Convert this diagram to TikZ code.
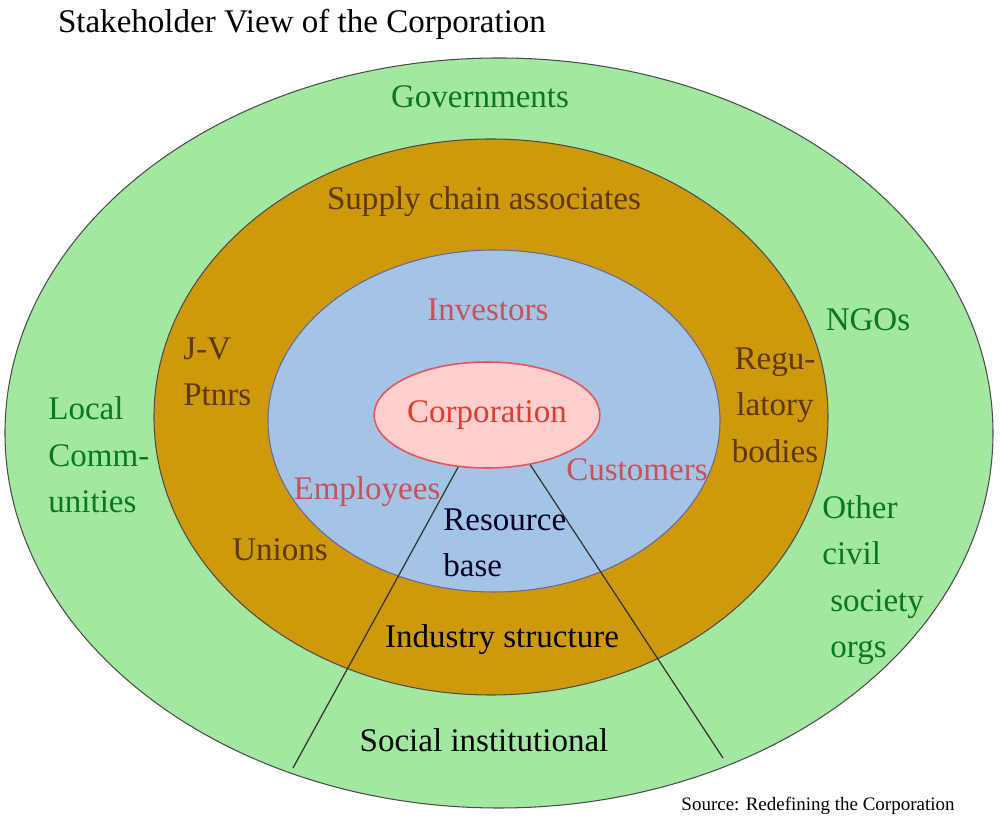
\documentclass[tikz,border=0pt]{standalone}
\usepackage{fontspec}
\setmainfont{Liberation Serif}
\usetikzlibrary{shapes.geometric}
\definecolor{envcol}{RGB}{163,232,160}
\definecolor{indcol}{RGB}{206,154,12}
\definecolor{rescol}{RGB}{164,196,230}
\definecolor{corpfill}{RGB}{255,206,206}
\definecolor{corpline}{RGB}{232,84,92}
\definecolor{envtxt}{RGB}{10,120,30}
\definecolor{indtxt}{RGB}{92,56,10}
\definecolor{restxt}{RGB}{200,82,92}
\definecolor{corptxt}{RGB}{222,62,46}

\begin{document}
\begin{tikzpicture}[
  lbl/.style={inner sep=0pt,font=\fontsize{18.8}{26.4}\selectfont},
  ring/.style={draw=black!70,line width=0.6pt},
  corpnode/.style={ellipse,draw=corpline,fill=corpfill,line width=0.9pt,
    minimum width=4.48cm,minimum height=2.12cm,inner sep=0pt},
]
\useasboundingbox (-10,-7.98) rectangle (10,8.6);
% --- the three rings, outside in ---
\fill[envcol] (-0.02,-0.06) ellipse [x radius=9.88,y radius=7.5];
\draw[ring] (-0.02,-0.06) ellipse [x radius=9.88,y radius=7.5];
\fill[indcol] (-0.18,0.26) ellipse [x radius=6.74,y radius=5.56];
\draw[ring] (-0.18,0.26) ellipse [x radius=6.74,y radius=5.56];
\fill[rescol] (-0.12,0.18) ellipse [x radius=4.52,y radius=3.42];
\draw[ring,draw=black!60!blue!60] (-0.12,0.18) ellipse [x radius=4.52,y radius=3.42];

% --- the corporation and the two dividing lines ---
\node[corpnode,lbl,text=corptxt] (corp) at (-0.26,0.30) {Corporation};
\coordinate (sl) at (-4.14,-6.76);
\coordinate (sr) at (4.46,-6.56);
\draw[black!80,line width=0.7pt] (corp.-119) -- (sl);
\draw[black!80,line width=0.7pt] (corp.-49) -- (sr);

% --- resource base ---
\node[lbl,restxt] (inv) at (-0.24,2.40) {Investors};
\node[lbl,restxt] (cust) at (2.74,-0.80) {Customers};
\node[lbl,restxt] (emp) at (-2.66,-1.24) {Employees};
\node[lbl,align=left,anchor=west,black!85!blue] (res) at (-1.14,-2.26) {Resource\\base};

% --- industry structure ---
\node[lbl,indtxt] (sup) at (-0.32,4.56) {Supply chain associates};
\node[lbl,indtxt,align=left,anchor=west] (jv) at (-6.34,1.16) {J-V\\Ptnrs};
\node[lbl,indtxt,align=center] (reg) at (5.5,0.5) {Regu-\\latory\\bodies};
\node[lbl,indtxt] (uni) at (-4.4,-2.4) {Unions};
\node[lbl] (ind) at (0.04,-4.2) {Industry structure};

% --- social political arena ---
\node[lbl,envtxt] (gov) at (-0.40,6.66) {Governments};
\node[lbl,envtxt,align=left,anchor=west] (loc) at (-9.04,-0.5) {Local\\Comm-\\unities};
\node[lbl,envtxt] (ngo) at (7.36,2.2) {NGOs};
\node[lbl,envtxt,align=left,anchor=west] (oth) at (6.44,-3.0) {Other\\civil\\\hspace{0.16cm}society\\\hspace{0.16cm}orgs};
\node[lbl] (soc) at (-0.32,-6.2) {Social institutional};

% --- title and source ---
\node[lbl] (title) at (-3.96,8.12) {Stakeholder View of the Corporation};
\node[inner sep=0pt,font=\fontsize{10.8}{13}\selectfont] (src) at (6.36,-7.52) {Source: Redefining the Corporation};
\end{tikzpicture}
\end{document}
